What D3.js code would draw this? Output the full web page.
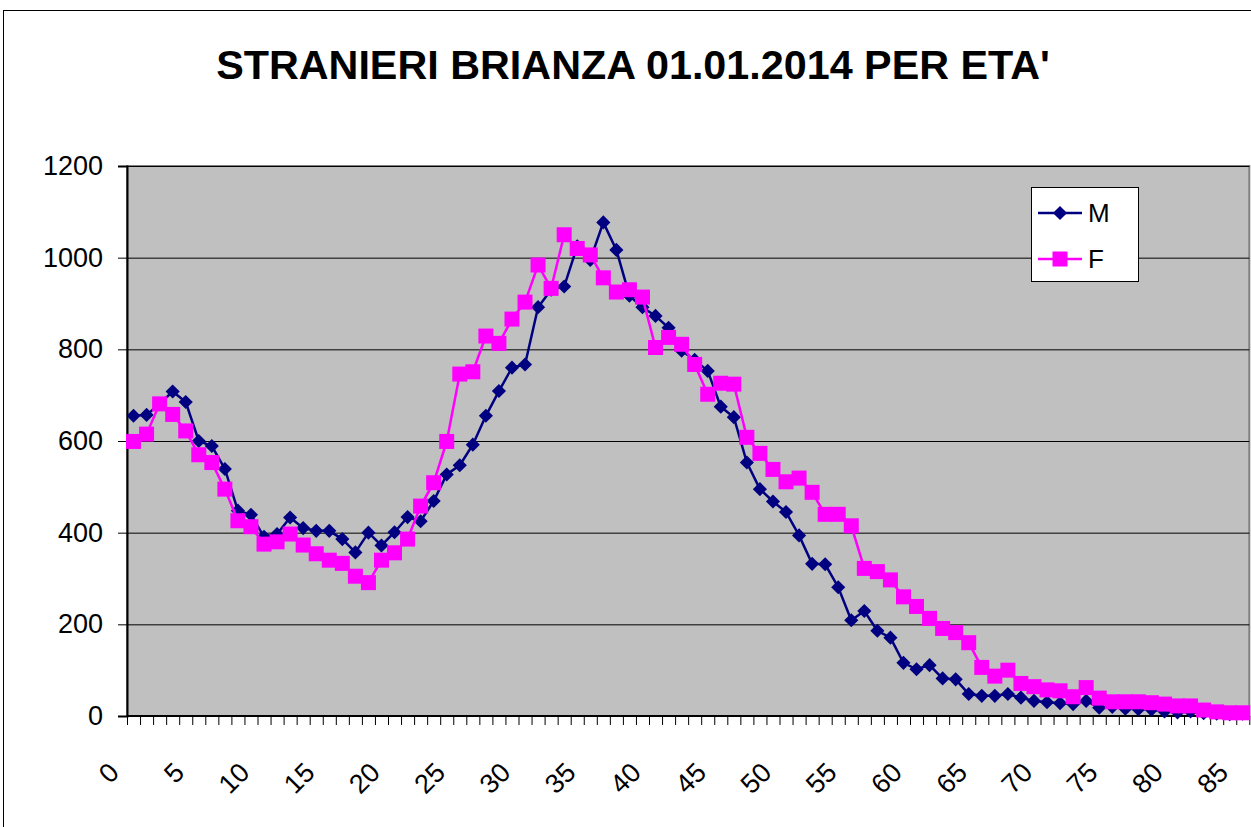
<!DOCTYPE html>
<html>
<head>
<meta charset="utf-8">
<script src="https://cdn.jsdelivr.net/npm/d3@7"></script>
<style>
  body { margin: 0; background: #fff; }
  text { font-family: "Liberation Sans", Arial, sans-serif; }
</style>
</head>
<body>
<svg id="chart" width="1251" height="827"></svg>
<script>
// eta' 0..85
const ages = d3.range(0, 86)
const maschi = [655, 657, 681, 708, 685, 600, 589, 539, 448, 439,
  391, 397, 433, 410, 404, 404, 386, 357, 400, 372,
  401, 434, 425, 469, 527, 547, 592, 655, 709, 760,
  767, 892, 930, 937, 1025, 995, 1077, 1017, 917, 892,
  873, 847, 797, 777, 753, 675, 652, 553, 495, 468,
  445, 394, 332, 331, 281, 209, 229, 186, 171, 116,
  102, 111, 82, 80, 48, 44, 44, 48, 40, 33,
  30, 28, 26, 33, 18, 20, 16, 15, 14, 10,
  8, 10, 6, 5, 4, 5]
const femmine = [599, 615, 681, 658, 622, 570, 553, 495, 426, 413,
  375, 380, 397, 373, 354, 340, 333, 305, 291, 340,
  356, 386, 458, 509, 599, 746, 751, 829, 813, 866,
  903, 984, 933, 1050, 1020, 1006, 956, 925, 930, 914,
  804, 826, 811, 767, 702, 726, 724, 608, 573, 538,
  511, 519, 488, 440, 440, 415, 322, 315, 297, 260,
  239, 213, 191, 182, 160, 106, 87, 100, 71, 64,
  57, 55, 42, 62, 39, 31, 31, 31, 29, 26,
  22, 22, 13, 9, 7, 7]
const yTicks = [0, 200, 400, 600, 800, 1000, 1200]
const xLabels = [0, 5, 10, 15, 20, 25, 30, 35, 40, 45, 50, 55, 60, 65, 70, 75, 80, 85]
const legendNames = ['M', 'F']

const svg = d3.select('#chart')

const plotLeft = 127, plotTop = 166, plotBottom = 716
const step = 13.05
const plotRight = plotLeft + ages.length * step

const x = d3.scaleBand().domain(ages).range([plotLeft, plotRight])
const y = d3.scaleLinear().domain([0, 1200]).range([plotBottom, plotTop])
const cx = d => x(d) + x.bandwidth() / 2

// cornice esterna
svg.append('rect')
  .attr('x', 3.5).attr('y', 10.5)
  .attr('width', 1300).attr('height', 900)
  .attr('fill', 'none').attr('stroke', '#000').attr('stroke-width', 1)

svg.append('text')
  .attr('x', 633).attr('y', 79)
  .attr('text-anchor', 'middle')
  .attr('font-size', 41.3).attr('font-weight', 'bold')
  .text("STRANIERI BRIANZA 01.01.2014 PER ETA'")

// area del grafico
svg.append('rect')
  .attr('x', plotLeft).attr('y', plotTop)
  .attr('width', plotRight - plotLeft).attr('height', plotBottom - plotTop)
  .attr('fill', '#c0c0c0')
  .attr('stroke', '#808080').attr('stroke-width', 2)

svg.selectAll('.grid')
  .data(yTicks.filter(d => d > 0))
  .enter()
  .append('line')
  .attr('x1', plotLeft).attr('x2', plotRight)
  .attr('y1', d => y(d) + 0.5).attr('y2', d => y(d) + 0.5)
  .attr('stroke', '#000').attr('stroke-width', 1)

const yAxis = d3.axisLeft(y).tickValues(yTicks).tickSize(9).tickPadding(15).tickFormat(d3.format('d'))
svg.append('g')
  .attr('class', 'axis y-axis')
  .attr('transform', `translate(${plotLeft},0)`)
  .call(yAxis)
  .call(g => g.select('.domain').attr('stroke-width', 2))
  .call(g => g.selectAll('text').attr('font-size', 27).attr('font-family', '"Liberation Sans", Arial, sans-serif').attr('fill', '#000'))

// asse x
svg.append('line')
  .attr('x1', plotLeft).attr('x2', plotRight)
  .attr('y1', plotBottom).attr('y2', plotBottom)
  .attr('stroke', '#000').attr('stroke-width', 2)

svg.selectAll('.xtick')
  .data(ages.concat([ages.length]))
  .enter()
  .append('line')
  .attr('x1', (d, i) => plotLeft + i * x.step() + 0.5)
  .attr('x2', (d, i) => plotLeft + i * x.step() + 0.5)
  .attr('y1', plotBottom).attr('y2', plotBottom + 9)
  .attr('stroke', '#000')

svg.selectAll('.xlab')
  .data(xLabels)
  .enter()
  .append('text')
  .attr('text-anchor', 'end')
  .attr('font-size', 27)
  .attr('transform', d => `translate(${cx(d) - 13},${plotBottom + 58}) rotate(-45)`)
  .text(d => d)

// serie
const line = d3.line()
  .x((d, i) => cx(ages[i]))
  .y(d => y(d))

const series = [
  { name: legendNames[0], values: maschi, color: '#000080', symbol: d3.symbolSquare, size: 100, rot: 45 },
  { name: legendNames[1], values: femmine, color: '#ff00ff', symbol: d3.symbolSquare, size: 225, rot: 0 }
]

series.forEach(s => {
  svg.append('path')
    .datum(s.values)
    .attr('d', line)
    .attr('fill', 'none')
    .attr('stroke', s.color)
    .attr('stroke-width', 2.5)

  svg.selectAll('.pt-' + s.name)
    .data(s.values)
    .enter()
    .append('path')
    .attr('d', d3.symbol().type(s.symbol).size(s.size))
    .attr('transform', (d, i) => `translate(${cx(ages[i])},${y(d)}) rotate(${s.rot})`)
    .attr('fill', s.color)
})

// legenda
const legend = svg.append('g')
legend.append('rect')
  .attr('x', 1031.5).attr('y', 187.5)
  .attr('width', 107).attr('height', 94)
  .attr('fill', '#fff').attr('stroke', '#000')

series.forEach((s, i) => {
  const ly = 213 + i * 46
  legend.append('line')
    .attr('x1', 1038).attr('x2', 1082)
    .attr('y1', ly).attr('y2', ly)
    .attr('stroke', s.color).attr('stroke-width', 2.5)
  legend.append('path')
    .attr('d', d3.symbol().type(s.symbol).size(s.size))
    .attr('transform', `translate(1060,${ly}) rotate(${s.rot})`)
    .attr('fill', s.color)
  legend.append('text')
    .attr('x', 1088).attr('y', ly + 9)
    .attr('font-size', 26)
    .text(s.name)
})
</script>
</body>
</html>
